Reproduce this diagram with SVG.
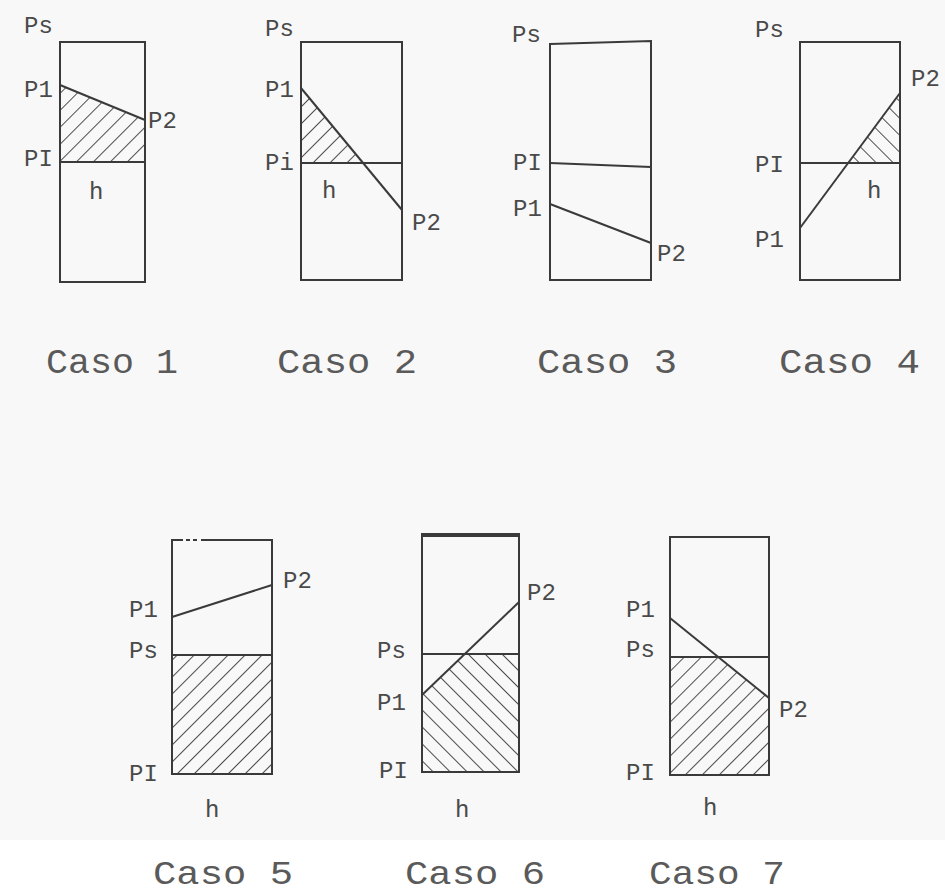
<svg xmlns="http://www.w3.org/2000/svg" width="945" height="895" viewBox="0 0 945 895">
<style>
.box{fill:none;stroke:#3a3a3a;stroke-width:2}
.ln{fill:none;stroke:#3a3a3a;stroke-width:2}
.lbl{font-family:"Liberation Mono","DejaVu Sans Mono",monospace;font-size:24px;fill:#4a4a4a}
.cap{font-family:"Liberation Mono","DejaVu Sans Mono",monospace;font-size:35px;fill:#5a5a5a}
.cap2{font-family:"Liberation Mono","DejaVu Sans Mono",monospace;font-size:33px;fill:#5a5a5a}
.hf{fill:url(#hatchF);stroke:none}
.hb{fill:url(#hatchB);stroke:none}
</style>
<defs>
<pattern id="hatchF" patternUnits="userSpaceOnUse" width="12" height="12" patternTransform="rotate(45)">
<line x1="0" y1="0" x2="0" y2="12" stroke="#3a3a3a" stroke-width="1.8"/>
</pattern>
<pattern id="hatchB" patternUnits="userSpaceOnUse" width="12" height="12" patternTransform="rotate(-45)">
<line x1="0" y1="0" x2="0" y2="12" stroke="#3a3a3a" stroke-width="1.8"/>
</pattern>
</defs>
<rect x="0" y="0" width="945" height="840" fill="#f8f8f8"/>
<rect x="0" y="840" width="945" height="55" fill="#ffffff"/>

<g id="caso1">
<polygon class="hf" points="60,85 145,120 145,162 60,162"/>
<rect class="box" x="60" y="42" width="85" height="240"/>
<line class="ln" x1="60" y1="85" x2="145" y2="120"/>
<line class="ln" x1="60" y1="162" x2="145" y2="162"/>
<text class="lbl" x="24" y="33">Ps</text>
<text class="lbl" x="24" y="97">P1</text>
<text class="lbl" x="148" y="128">P2</text>
<text class="lbl" x="24" y="166">PI</text>
<text class="lbl" x="89" y="199">h</text>
<text class="cap" x="46" y="373" textLength="132" lengthAdjust="spacingAndGlyphs">Caso 1</text>
</g>

<g id="caso2">
<polygon class="hf" points="301,88 362,163 301,163"/>
<rect class="box" x="301" y="42" width="101" height="238"/>
<line class="ln" x1="301" y1="88" x2="402" y2="210"/>
<line class="ln" x1="301" y1="163" x2="402" y2="163"/>
<text class="lbl" x="265" y="36">Ps</text>
<text class="lbl" x="265" y="97">P1</text>
<text class="lbl" x="265" y="170">Pi</text>
<text class="lbl" x="322" y="198">h</text>
<text class="lbl" x="412" y="230">P2</text>
<text class="cap" x="277" y="373" textLength="140" lengthAdjust="spacingAndGlyphs">Caso 2</text>
</g>

<g id="caso3">
<path class="box" d="M550,44 L651,41 L651,280 L550,280 Z"/>
<line class="ln" x1="550" y1="163" x2="651" y2="167"/>
<line class="ln" x1="550" y1="204" x2="651" y2="243"/>
<text class="lbl" x="512" y="42">Ps</text>
<text class="lbl" x="513" y="170">PI</text>
<text class="lbl" x="513" y="216">P1</text>
<text class="lbl" x="657" y="261">P2</text>
<text class="cap" x="537" y="373" textLength="140" lengthAdjust="spacingAndGlyphs">Caso 3</text>
</g>

<g id="caso4">
<polygon class="hb" points="848,163 900,93 900,163"/>
<rect class="box" x="800" y="42" width="100" height="238"/>
<line class="ln" x1="800" y1="228" x2="900" y2="93"/>
<line class="ln" x1="800" y1="163" x2="900" y2="163"/>
<text class="lbl" x="755" y="37">Ps</text>
<text class="lbl" x="911" y="86">P2</text>
<text class="lbl" x="755" y="172">PI</text>
<text class="lbl" x="867" y="198">h</text>
<text class="lbl" x="755" y="247">P1</text>
<text class="cap" x="779" y="373" textLength="141" lengthAdjust="spacingAndGlyphs">Caso 4</text>
</g>

<g id="caso5">
<rect class="hf" x="172" y="655" width="100" height="119"/>
<rect class="box" x="172" y="540" width="100" height="234"/>
<rect x="183" y="538" width="3" height="4" fill="#f8f8f8"/>
<rect x="190" y="538" width="3" height="4" fill="#f8f8f8"/>
<rect x="197" y="538" width="4" height="4" fill="#f8f8f8"/>
<line class="ln" x1="172" y1="617" x2="272" y2="585"/>
<line class="ln" x1="172" y1="655" x2="272" y2="655"/>
<text class="lbl" x="129" y="617">P1</text>
<text class="lbl" x="283" y="588">P2</text>
<text class="lbl" x="129" y="658">Ps</text>
<text class="lbl" x="129" y="781">PI</text>
<text class="lbl" x="205" y="817">h</text>
<text class="cap2" x="153" y="884" textLength="140" lengthAdjust="spacingAndGlyphs">Caso 5</text>
</g>

<g id="caso6">
<polygon class="hb" points="422,695 465,654 519,654 519,772 422,772"/>
<rect class="box" x="422" y="535" width="97" height="237"/>
<line x1="421" y1="535" x2="520" y2="535" stroke="#3a3a3a" stroke-width="4"/>
<line class="ln" x1="422" y1="695" x2="519" y2="602"/>
<line class="ln" x1="422" y1="654" x2="519" y2="654"/>
<text class="lbl" x="527" y="600">P2</text>
<text class="lbl" x="377" y="658">Ps</text>
<text class="lbl" x="377" y="710">P1</text>
<text class="lbl" x="379" y="778">PI</text>
<text class="lbl" x="455" y="817">h</text>
<text class="cap2" x="405" y="884" textLength="140" lengthAdjust="spacingAndGlyphs">Caso 6</text>
</g>

<g id="caso7">
<polygon class="hf" points="670,657 718,657 769,698 769,775 670,775"/>
<rect class="box" x="670" y="537" width="99" height="238"/>
<line class="ln" x1="670" y1="618" x2="769" y2="698"/>
<line class="ln" x1="670" y1="657" x2="769" y2="657"/>
<text class="lbl" x="626" y="617">P1</text>
<text class="lbl" x="626" y="657">Ps</text>
<text class="lbl" x="779" y="717">P2</text>
<text class="lbl" x="626" y="780">PI</text>
<text class="lbl" x="703" y="815">h</text>
<text class="cap2" x="649" y="884" textLength="136" lengthAdjust="spacingAndGlyphs">Caso 7</text>
</g>
</svg>
